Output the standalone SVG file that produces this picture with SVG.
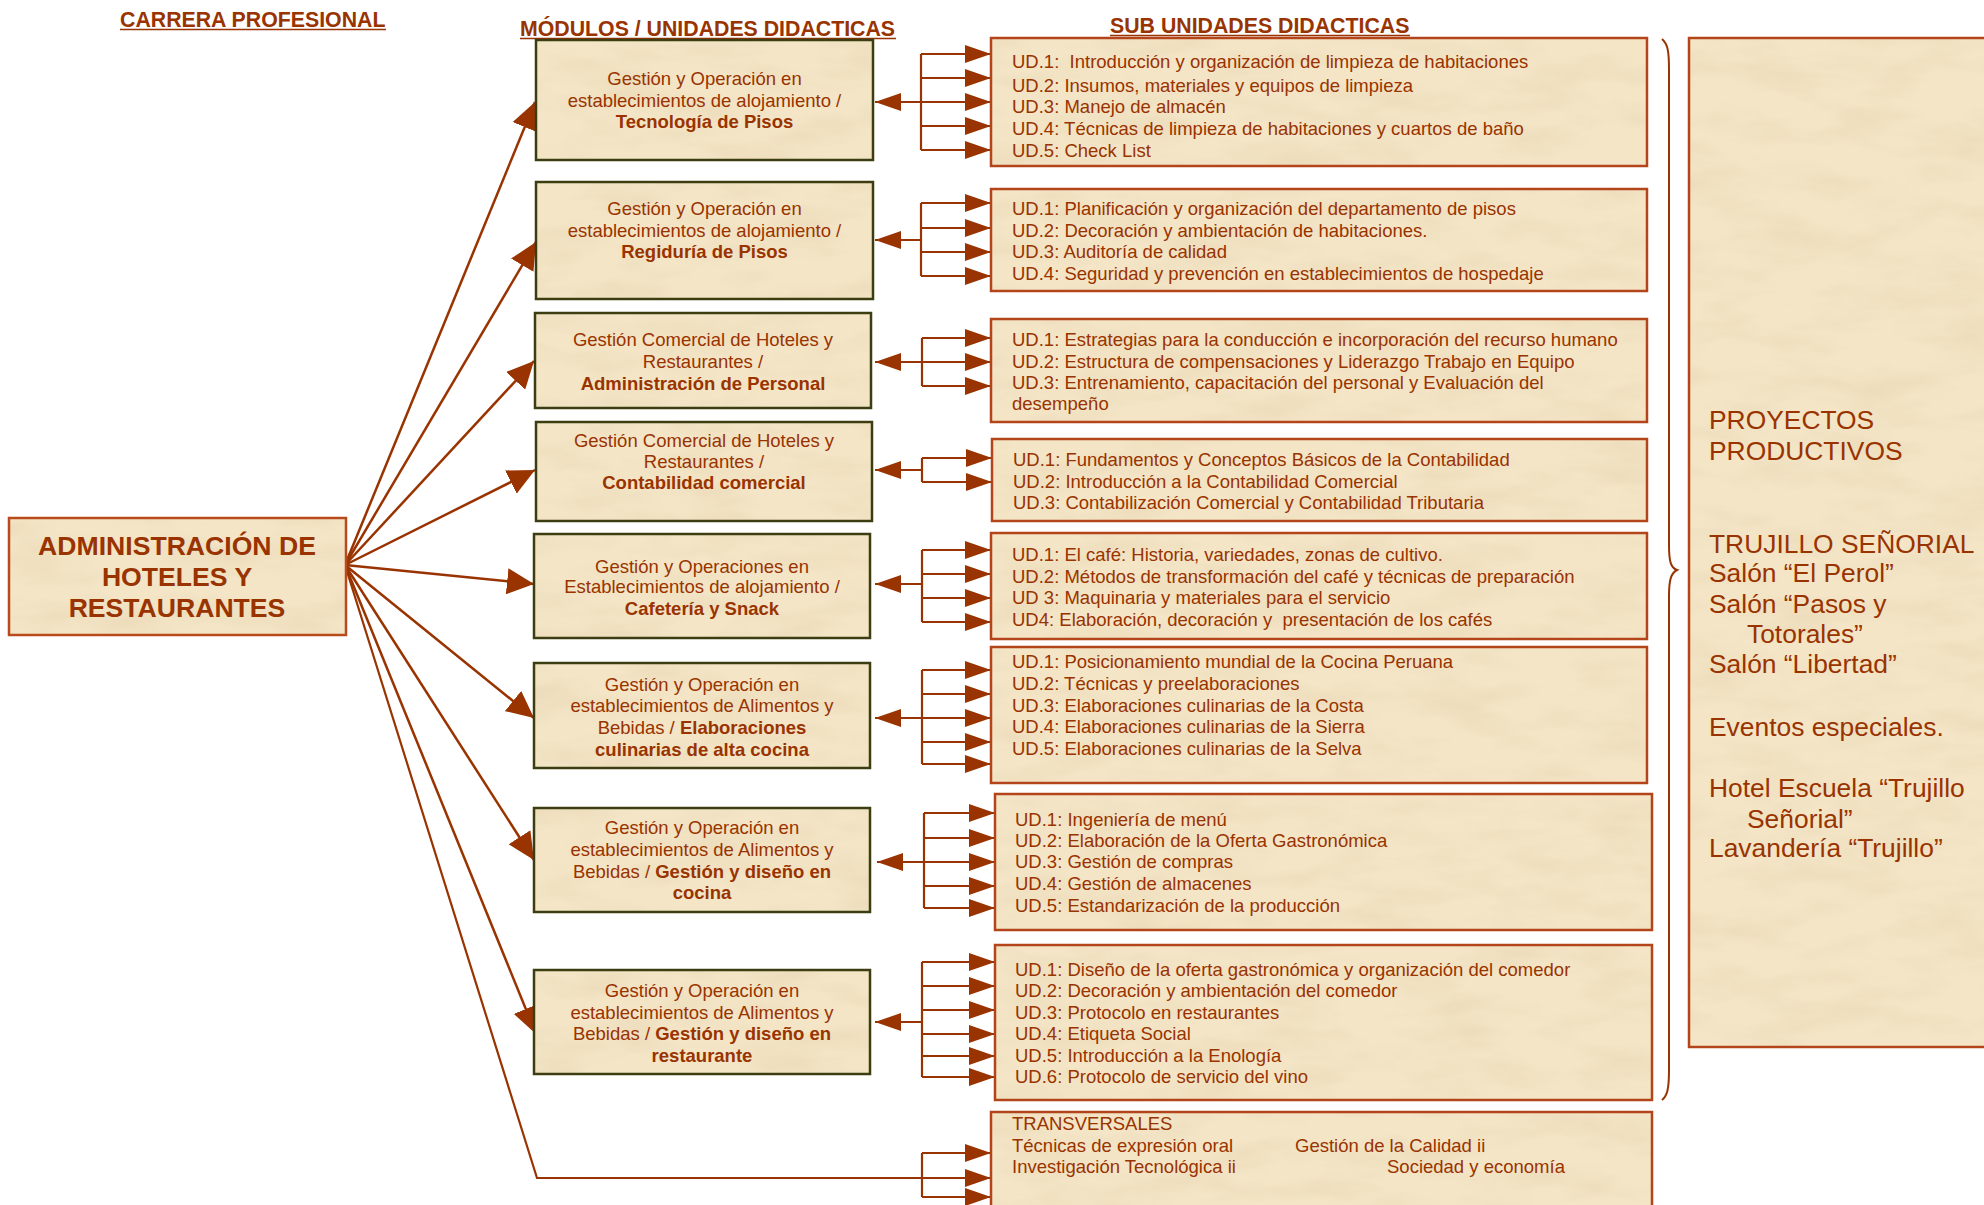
<svg xmlns="http://www.w3.org/2000/svg" width="1984" height="1205" viewBox="0 0 1984 1205">
<style>
text{font-family:"Liberation Sans",Arial,sans-serif;fill:#993300}
.h{font-size:21.3px;font-weight:bold}
.mt{font-size:18.5px;text-anchor:middle}
.st{font-size:18.5px;white-space:pre}
.pt{font-size:26.4px;white-space:pre}
.b{font-weight:bold}
.main{font-size:26.6px;font-weight:bold;text-anchor:middle}
.mod{fill:url(#paper);stroke:#3d3d12;stroke-width:2.5}
.sub{fill:url(#paper);stroke:#b4441a;stroke-width:2.5}
.fan{fill:none;stroke:#993300;stroke-width:2.5;marker-end:url(#fanArrow)}
.br{fill:none;stroke:#993300;stroke-width:2.2}
.ba{fill:none;stroke:#993300;stroke-width:2.2;marker-end:url(#brArrow)}
.ul{stroke:#993300;stroke-width:1.6}
</style>
<defs>
<filter id="mottle" filterUnits="userSpaceOnUse" x="0" y="0" width="1984" height="1205">
<feTurbulence type="fractalNoise" baseFrequency="0.012 0.035" numOctaves="4" seed="7"/>
<feColorMatrix type="matrix" values="0 0 0 0 0.80  0 0 0 0 0.66  0 0 0 0 0.45  1.1 0 0 0 -0.45"/>
</filter>
<pattern id="paper" patternUnits="userSpaceOnUse" x="0" y="0" width="1984" height="1205">
<rect width="1984" height="1205" fill="#f3e5c6"/>
<rect width="1984" height="1205" fill="#000" filter="url(#mottle)"/>
</pattern>
<marker id="fanArrow" markerUnits="userSpaceOnUse" markerWidth="28" markerHeight="26" refX="27" refY="13" orient="auto"><path d="M0,0 L27,13 L0,26 z" fill="#993300"/></marker>
<marker id="brArrow" markerUnits="userSpaceOnUse" markerWidth="26" markerHeight="18" refX="26" refY="9" orient="auto"><path d="M0,0 L26,9 L0,18 z" fill="#993300"/></marker>
</defs>

<g id="headers">
<text class="h" x="120" y="27">CARRERA PROFESIONAL</text>
<line class="ul" x1="120" y1="29.5" x2="386" y2="29.5"/>
<text class="h" x="520" y="36">MÓDULOS / UNIDADES DIDACTICAS</text>
<line class="ul" x1="520" y1="38.5" x2="896" y2="38.5"/>
<text class="h" x="1110" y="33">SUB UNIDADES DIDACTICAS</text>
<line class="ul" x1="1110" y1="35.5" x2="1410" y2="35.5"/>
</g>

<g id="connectors">
<path class="fan" d="M345,565 L535,102"/>
<path class="fan" d="M345,565 L536,242"/>
<path class="fan" d="M345,565 L534,361"/>
<path class="fan" d="M345,565 L535,470"/>
<path class="fan" d="M345,565 L534,584"/>
<path class="fan" d="M345,565 L534,718"/>
<path class="fan" d="M345,565 L534,860"/>
<path class="fan" d="M345,565 L536,1034"/>
<path class="br" d="M345,565 L537,1178 L922,1178"/>
<path class="br" d="M921,54 V150"/>
<path class="ba" d="M921,102 H875"/>
<path class="ba" d="M921,54 H991"/><path class="ba" d="M921,78 H991"/><path class="ba" d="M921,102 H991"/><path class="ba" d="M921,126 H991"/><path class="ba" d="M921,150 H991"/>
<path class="br" d="M921,203 V276"/>
<path class="ba" d="M921,240 H875"/>
<path class="ba" d="M921,203 H991"/><path class="ba" d="M921,228 H991"/><path class="ba" d="M921,252 H991"/><path class="ba" d="M921,276 H991"/>
<path class="br" d="M922,338 V386"/>
<path class="ba" d="M922,362 H875"/>
<path class="ba" d="M922,338 H991"/><path class="ba" d="M922,362 H991"/><path class="ba" d="M922,386 H991"/>
<path class="br" d="M922,458 V482"/>
<path class="ba" d="M922,470 H875"/>
<path class="ba" d="M922,458 H992"/><path class="ba" d="M922,482 H992"/>
<path class="br" d="M922,550 V622"/>
<path class="ba" d="M922,584 H875"/>
<path class="ba" d="M922,550 H991"/><path class="ba" d="M922,574 H991"/><path class="ba" d="M922,598 H991"/><path class="ba" d="M922,622 H991"/>
<path class="br" d="M922,670 V764"/>
<path class="ba" d="M922,718 H875"/>
<path class="ba" d="M922,670 H991"/><path class="ba" d="M922,694 H991"/><path class="ba" d="M922,718 H991"/><path class="ba" d="M922,742 H991"/><path class="ba" d="M922,764 H991"/>
<path class="br" d="M924,813 V908"/>
<path class="ba" d="M924,862 H877"/>
<path class="ba" d="M924,813 H995"/><path class="ba" d="M924,838 H995"/><path class="ba" d="M924,862 H995"/><path class="ba" d="M924,886 H995"/><path class="ba" d="M924,908 H995"/>
<path class="br" d="M922,962 V1077"/>
<path class="ba" d="M922,1022 H875"/>
<path class="ba" d="M922,962 H995"/><path class="ba" d="M922,986 H995"/><path class="ba" d="M922,1010 H995"/><path class="ba" d="M922,1034 H995"/><path class="ba" d="M922,1056 H995"/><path class="ba" d="M922,1077 H995"/>
<path class="br" d="M922,1153 V1197"/>
<path class="ba" d="M922,1153 H991"/><path class="ba" d="M922,1178 H991"/><path class="ba" d="M922,1197 H991"/>
<path d="M1662,39 C1668,44 1669,52 1669,70 L1669,545 C1669,562 1671,568 1677,570 C1671,573 1669,580 1669,596 L1669,1070 C1669,1090 1667,1096 1662,1100" fill="none" stroke="#993300" stroke-width="2"/>
</g>

<g id="root">
<rect x="9" y="518" width="337" height="117" fill="url(#paper)" stroke="#b84a1c" stroke-width="2.5"/>
<text class="main" x="177" y="555">ADMINISTRACIÓN DE</text>
<text class="main" x="177" y="586">HOTELES Y</text>
<text class="main" x="177" y="617">RESTAURANTES</text>
</g>

<g id="m1">
<rect class="mod" x="536" y="40" width="337" height="120"/>
<text class="mt" x="704.5" y="85">Gestión y Operación en</text>
<text class="mt" x="704.5" y="107">establecimientos de alojamiento /</text>
<text class="mt b" x="704.5" y="128">Tecnología de Pisos</text>
</g>
<g id="m2">
<rect class="mod" x="536" y="182" width="337" height="117"/>
<text class="mt" x="704.5" y="215">Gestión y Operación en</text>
<text class="mt" x="704.5" y="237">establecimientos de alojamiento /</text>
<text class="mt b" x="704.5" y="258">Regiduría de Pisos</text>
</g>
<g id="m3">
<rect class="mod" x="535" y="313" width="336" height="95"/>
<text class="mt" x="703" y="346">Gestión Comercial de Hoteles y</text>
<text class="mt" x="703" y="368">Restaurantes /</text>
<text class="mt b" x="703" y="390">Administración de Personal</text>
</g>
<g id="m4">
<rect class="mod" x="536" y="422" width="336" height="99"/>
<text class="mt" x="704" y="447">Gestión Comercial de Hoteles y</text>
<text class="mt" x="704" y="468">Restaurantes /</text>
<text class="mt b" x="704" y="489">Contabilidad comercial</text>
</g>
<g id="m5">
<rect class="mod" x="534" y="534" width="336" height="104"/>
<text class="mt" x="702" y="573">Gestión y Operaciones en</text>
<text class="mt" x="702" y="593">Establecimientos de alojamiento /</text>
<text class="mt b" x="702" y="615">Cafetería y Snack</text>
</g>
<g id="m6">
<rect class="mod" x="534" y="663" width="336" height="105"/>
<text class="mt" x="702" y="691">Gestión y Operación en</text>
<text class="mt" x="702" y="712">establecimientos de Alimentos y</text>
<text class="mt" x="702" y="734">Bebidas / <tspan class="b">Elaboraciones</tspan></text>
<text class="mt b" x="702" y="756">culinarias de alta cocina</text>
</g>
<g id="m7">
<rect class="mod" x="534" y="808" width="336" height="104"/>
<text class="mt" x="702" y="834">Gestión y Operación en</text>
<text class="mt" x="702" y="856">establecimientos de Alimentos y</text>
<text class="mt" x="702" y="878">Bebidas / <tspan class="b">Gestión y diseño en</tspan></text>
<text class="mt b" x="702" y="899">cocina</text>
</g>
<g id="m8">
<rect class="mod" x="534" y="970" width="336" height="104"/>
<text class="mt" x="702" y="997">Gestión y Operación en</text>
<text class="mt" x="702" y="1019">establecimientos de Alimentos y</text>
<text class="mt" x="702" y="1040">Bebidas / <tspan class="b">Gestión y diseño en</tspan></text>
<text class="mt b" x="702" y="1062">restaurante</text>
</g>

<g id="s1">
<rect class="sub" x="991" y="38" width="656" height="128"/>
<text class="st" x="1012" y="68">UD.1:  Introducción y organización de limpieza de habitaciones</text>
<text class="st" x="1012" y="91.5">UD.2: Insumos, materiales y equipos de limpieza</text>
<text class="st" x="1012" y="113">UD.3: Manejo de almacén</text>
<text class="st" x="1012" y="135">UD.4: Técnicas de limpieza de habitaciones y cuartos de baño</text>
<text class="st" x="1012" y="156.5">UD.5: Check List</text>
</g>
<g id="s2">
<rect class="sub" x="991" y="189" width="656" height="102"/>
<text class="st" x="1012" y="215">UD.1: Planificación y organización del departamento de pisos</text>
<text class="st" x="1012" y="237">UD.2: Decoración y ambientación de habitaciones.</text>
<text class="st" x="1012" y="258">UD.3: Auditoría de calidad</text>
<text class="st" x="1012" y="280">UD.4: Seguridad y prevención en establecimientos de hospedaje</text>
</g>
<g id="s3">
<rect class="sub" x="991" y="319" width="656" height="103"/>
<text class="st" x="1012" y="346">UD.1: Estrategias para la conducción e incorporación del recurso humano</text>
<text class="st" x="1012" y="368">UD.2: Estructura de compensaciones y Liderazgo Trabajo en Equipo</text>
<text class="st" x="1012" y="389">UD.3: Entrenamiento, capacitación del personal y Evaluación del</text>
<text class="st" x="1012" y="410">desempeño</text>
</g>
<g id="s4">
<rect class="sub" x="992" y="439" width="655" height="82"/>
<text class="st" x="1013" y="466">UD.1: Fundamentos y Conceptos Básicos de la Contabilidad</text>
<text class="st" x="1013" y="488">UD.2: Introducción a la Contabilidad Comercial</text>
<text class="st" x="1013" y="509">UD.3: Contabilización Comercial y Contabilidad Tributaria</text>
</g>
<g id="s5">
<rect class="sub" x="991" y="533" width="656" height="106"/>
<text class="st" x="1012" y="561">UD.1: El café: Historia, variedades, zonas de cultivo.</text>
<text class="st" x="1012" y="583">UD.2: Métodos de transformación del café y técnicas de preparación</text>
<text class="st" x="1012" y="604">UD 3: Maquinaria y materiales para el servicio</text>
<text class="st" x="1012" y="626">UD4: Elaboración, decoración y  presentación de los cafés</text>
</g>
<g id="s6">
<rect class="sub" x="991" y="647" width="656" height="136"/>
<text class="st" x="1012" y="668">UD.1: Posicionamiento mundial de la Cocina Peruana</text>
<text class="st" x="1012" y="690">UD.2: Técnicas y preelaboraciones</text>
<text class="st" x="1012" y="712">UD.3: Elaboraciones culinarias de la Costa</text>
<text class="st" x="1012" y="733">UD.4: Elaboraciones culinarias de la Sierra</text>
<text class="st" x="1012" y="755">UD.5: Elaboraciones culinarias de la Selva</text>
</g>
<g id="s7">
<rect class="sub" x="995" y="794" width="657" height="136"/>
<text class="st" x="1015" y="826">UD.1: Ingeniería de menú</text>
<text class="st" x="1015" y="847">UD.2: Elaboración de la Oferta Gastronómica</text>
<text class="st" x="1015" y="868">UD.3: Gestión de compras</text>
<text class="st" x="1015" y="890">UD.4: Gestión de almacenes</text>
<text class="st" x="1015" y="912">UD.5: Estandarización de la producción</text>
</g>
<g id="s8">
<rect class="sub" x="995" y="945" width="657" height="155"/>
<text class="st" x="1015" y="976">UD.1: Diseño de la oferta gastronómica y organización del comedor</text>
<text class="st" x="1015" y="997">UD.2: Decoración y ambientación del comedor</text>
<text class="st" x="1015" y="1019">UD.3: Protocolo en restaurantes</text>
<text class="st" x="1015" y="1040">UD.4: Etiqueta Social</text>
<text class="st" x="1015" y="1062">UD.5: Introducción a la Enología</text>
<text class="st" x="1015" y="1083">UD.6: Protocolo de servicio del vino</text>
</g>
<g id="s9">
<rect class="sub" x="991" y="1112" width="661" height="110"/>
<text class="st" x="1012" y="1130">TRANSVERSALES</text>
<text class="st" x="1012" y="1152">Técnicas de expresión oral</text>
<text class="st" x="1295" y="1152">Gestión de la Calidad ii</text>
<text class="st" x="1012" y="1173">Investigación Tecnológica ii</text>
<text class="st" x="1387" y="1173">Sociedad y economía</text>
</g>

<g id="proyectos">
<rect class="sub" x="1689" y="38" width="320" height="1009"/>
<text class="pt" x="1709" y="429">PROYECTOS</text>
<text class="pt" x="1709" y="460">PRODUCTIVOS</text>
<text class="pt" x="1709" y="553">TRUJILLO SEÑORIAL</text>
<text class="pt" x="1709" y="582">Salón “El Perol”</text>
<text class="pt" x="1709" y="613">Salón “Pasos y</text>
<text class="pt" x="1747" y="643">Totorales”</text>
<text class="pt" x="1709" y="673">Salón “Libertad”</text>
<text class="pt" x="1709" y="736">Eventos especiales.</text>
<text class="pt" x="1709" y="797">Hotel Escuela “Trujillo</text>
<text class="pt" x="1747" y="828">Señorial”</text>
<text class="pt" x="1709" y="857">Lavandería “Trujillo”</text>
</g>
</svg>
